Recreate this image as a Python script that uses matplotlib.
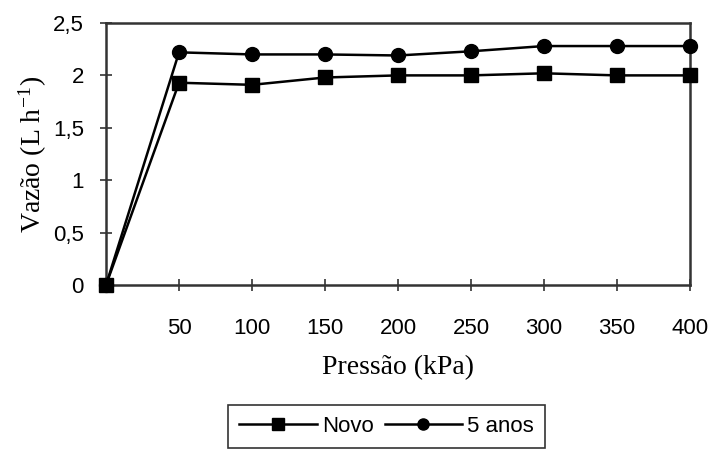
import matplotlib.pyplot as plt

# Data
pressao = [0, 50, 100, 150, 200, 250, 300, 350, 400]
novo = [0, 1.93, 1.91, 1.98, 2.0, 2.0, 2.02, 2.0, 2.0]
cinco_anos = [0, 2.22, 2.20, 2.20, 2.19, 2.23, 2.28, 2.28, 2.28]
xticks = [50, 100, 150, 200, 250, 300, 350, 400]
yticks = [0, 0.5, 1, 1.5, 2, 2.5]
ytick_labels = ['0', '0,5', '1', '1,5', '2', '2,5']

sans = 'Liberation Sans'
serif = 'Liberation Serif'
plt.rcParams['mathtext.fontset'] = 'stix'

fig = plt.figure(figsize=(7.13, 4.5), dpi=100)
ax = fig.add_axes([0.1487, 0.3667, 0.819, 0.5822])

ax.plot(pressao, novo, 'k-', marker='s', markersize=10, linewidth=1.8,
        label='Novo', clip_on=False, zorder=3)
ax.plot(pressao, cinco_anos, 'k-', marker='o', markersize=10, linewidth=1.8,
        label='5 anos', clip_on=False, zorder=3)

ax.set_xlim(0, 400)
ax.set_ylim(0, 2.5)
ax.set_xticks(xticks)
ax.set_xticklabels([str(v) for v in xticks], fontfamily=sans, fontsize=16)
ax.set_yticks(yticks)
ax.set_yticklabels(ytick_labels, fontfamily=sans, fontsize=16)
ax.tick_params(axis='both', direction='inout', length=8, width=1.2, color='#333333')
ax.tick_params(axis='x', pad=20)
ax.tick_params(axis='y', pad=12)

for side in ['left', 'bottom', 'top', 'right']:
    ax.spines[side].set_linewidth(1.8)
    ax.spines[side].set_color('#333333')

ax.set_xlabel('Pressão (kPa)', fontfamily=serif, fontsize=20, labelpad=11)
ax.set_ylabel('Vazão (L h$^{\\mathregular{-1}}$)', fontfamily=serif, fontsize=20, labelpad=3)

leg = fig.legend(loc='upper center', bbox_to_anchor=(0.542, 0.125), ncol=2,
                 prop={'family': sans, 'size': 16}, frameon=True, fancybox=False,
                 edgecolor='black', markerscale=0.8, handlelength=3.5,
                 columnspacing=0.5, handletextpad=0.2, borderpad=0.5)
leg.get_frame().set_linewidth(1.2)

fig.savefig('out.png', dpi=100)
